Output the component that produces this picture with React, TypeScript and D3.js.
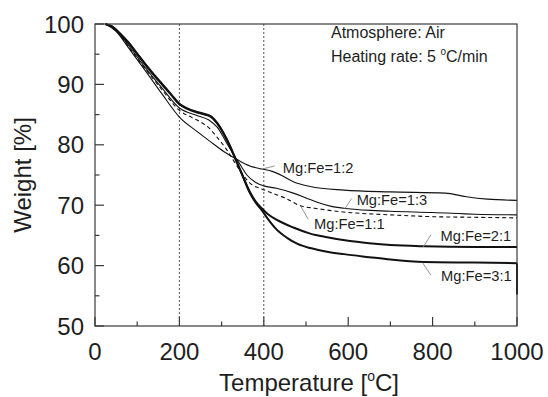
import React from 'react';
import * as d3 from 'd3';

// temperature [°C] and weight [%]
const tMgFe12 = [24, 50, 80, 120, 160, 200, 240, 272, 305, 336, 367, 395, 420, 446, 470, 510, 590, 700, 830, 880, 930, 1000];
const wMgFe12 = [100, 98.8, 96.0, 92.2, 88.3, 84.6, 82.3, 80.6, 78.9, 77.6, 76.5, 76.0, 75.6, 74.8, 73.9, 73.1, 72.5, 72.2, 72.0, 71.4, 71.0, 70.8];

const tMgFe13 = [24, 50, 80, 120, 160, 200, 240, 270, 290, 312, 330, 345, 360, 380, 400, 430, 470, 500, 530, 560, 600, 700, 800, 900, 1000];
const wMgFe13 = [100, 99.0, 96.4, 92.7, 89.3, 86.1, 84.9, 84.1, 82.9, 80.3, 78.2, 76.6, 75.0, 73.8, 73.2, 72.8, 72.0, 71.2, 70.4, 69.8, 69.4, 69.0, 68.8, 68.5, 68.4];

const tMgFe11 = [24, 50, 80, 120, 160, 200, 230, 250, 270, 290, 310, 330, 350, 370, 395, 420, 450, 487, 520, 560, 600, 700, 800, 900, 1000];
const wMgFe11 = [100, 98.9, 96.2, 92.5, 89.0, 85.7, 84.5, 83.8, 82.8, 81.2, 79.4, 77.2, 75.1, 73.5, 72.7, 72.0, 71.2, 69.9, 69.5, 69.1, 68.8, 68.4, 68.1, 68.0, 67.9];

const tMgFe21 = [24, 40, 60, 80, 100, 120, 140, 160, 180, 200, 220, 240, 260, 275, 290, 305, 320, 335, 350, 365, 380, 395, 410, 430, 470, 510, 550, 600, 650, 700, 780, 900, 1000];
const wMgFe21 = [100, 99.6, 98.3, 96.8, 95.0, 93.2, 91.5, 89.9, 88.3, 86.7, 85.9, 85.4, 85.0, 84.6, 83.5, 81.8, 79.7, 77.3, 74.9, 72.5, 70.7, 69.5, 68.5, 67.6, 66.3, 65.3, 64.7, 64.1, 63.7, 63.4, 63.2, 63.1, 63.1];

const tMgFe31 = [24, 40, 60, 80, 100, 120, 140, 160, 180, 200, 220, 240, 260, 275, 290, 305, 320, 335, 350, 365, 380, 395, 410, 430, 455, 480, 510, 550, 590, 650, 700, 780, 900, 1000];
const wMgFe31 = [100, 99.6, 98.4, 96.9, 95.1, 93.3, 91.6, 90.0, 88.4, 86.8, 86.0, 85.5, 85.1, 84.7, 83.6, 81.9, 79.8, 77.3, 74.8, 72.3, 70.5, 69.2, 67.7, 66.0, 64.6, 63.6, 62.9, 62.3, 61.9, 61.4, 61.0, 60.6, 60.5, 60.4];
// the 3:1 trace drops at the end of the run
const tEndDrop = [1000, 1000];
const wEndDrop = [60.4, 55.2];

const seriesNames = ['Mg:Fe=1:2', 'Mg:Fe=1:3', 'Mg:Fe=1:1', 'Mg:Fe=2:1', 'Mg:Fe=3:1'];
// leader start (on curve), leader end, text start — all in [°C, %]
const leaderFrom = [[391, 75.9], [592, 69.4], [487, 69.9], [778, 63.1], [776, 60.5]];
const leaderTo = [[426, 76.5], [608, 71.1], [505, 67.7], [796, 65.1], [796, 58.4]];
const labelAt = [[445, 75.4], [620, 70.0], [519, 66.1], [819, 64.1], [820, 57.5]];

const xTicks = [0, 200, 400, 600, 800, 1000];
const yTicks = [50, 60, 70, 80, 90, 100];
const markers = [200, 400];

const width = 548, height = 397;
const margin = { top: 24, right: 31, bottom: 71, left: 95 };
const font = 'Liberation Sans, Arial, Helvetica, sans-serif';

export default function App() {
  const x = d3.scaleLinear().domain([0, 1000]).range([margin.left, width - margin.right]);
  const y = d3.scaleLinear().domain([50, 100]).range([height - margin.bottom, margin.top]);

  const mk = (ts: number[], ws: number[]) =>
    d3.line<number>()
      .x((_, i) => x(ts[i]))
      .y((w) => y(w))
      .curve(d3.curveMonotoneX)(ws) || '';

  const curves = [
    { d: mk(tMgFe12, wMgFe12), w: 1.1, dash: undefined },
    { d: mk(tMgFe13, wMgFe13), w: 1.1, dash: undefined },
    { d: mk(tMgFe11, wMgFe11), w: 1.1, dash: '4,3' },
    { d: mk(tMgFe21, wMgFe21), w: 2.0, dash: undefined },
    { d: mk(tMgFe31, wMgFe31), w: 2.0, dash: undefined },
  ];
  const drop = d3.line<number>().x((_, i) => x(tEndDrop[i])).y((w) => y(w))(wEndDrop) || '';

  const minorX = d3.range(100, 1000, 200);
  const minorY = d3.range(55, 100, 10);
  const x0 = x(0), y0 = y(50);
  const axisColor = '#3a3a3a';
  const textColor = '#1e1e1e';

  return (
    <svg width={width} height={height} style={{ position: 'absolute', left: 0, top: 0, background: '#fff' }} fontFamily={font}>
      {/* marker lines */}
      {markers.map((m) => (
        <line key={m} x1={x(m)} x2={x(m)} y1={y(100)} y2={y(50)} stroke="#555" strokeWidth={1} strokeDasharray="2,2" />
      ))}

      {/* curves */}
      {curves.map((c, i) => (
        <path key={i} d={c.d} fill="none" stroke="#111" strokeWidth={c.w} strokeDasharray={c.dash} />
      ))}
      <path d={drop} fill="none" stroke="#111" strokeWidth={2.0} />

      {/* leaders + labels */}
      {seriesNames.map((n, i) => (
        <g key={n}>
          <line x1={x(leaderFrom[i][0])} y1={y(leaderFrom[i][1])} x2={x(leaderTo[i][0])} y2={y(leaderTo[i][1])} stroke="#888" strokeWidth={0.9} />
          <text x={x(labelAt[i][0])} y={y(labelAt[i][1])} fontSize={14.7} fill={textColor}>{n}</text>
        </g>
      ))}

      {/* frame */}
      <rect x={x0} y={y(100)} width={x(1000) - x0} height={y0 - y(100)} fill="none" stroke={axisColor} strokeWidth={1.2} />

      {/* ticks */}
      {xTicks.map((t) => (
        <g key={'x' + t}>
          <line x1={x(t)} x2={x(t)} y1={y0} y2={y0 - 9} stroke={axisColor} strokeWidth={1.2} />
          <text x={x(t)} y={y0 + 34} fontSize={24} textAnchor="middle" fill={textColor}>{t}</text>
        </g>
      ))}
      {minorX.map((t) => (
        <line key={'mx' + t} x1={x(t)} x2={x(t)} y1={y0} y2={y0 - 4.5} stroke={axisColor} strokeWidth={1.2} />
      ))}
      {yTicks.map((t) => (
        <g key={'y' + t}>
          <line x1={x0} x2={x0 + 9} y1={y(t)} y2={y(t)} stroke={axisColor} strokeWidth={1.2} />
          <text x={x0 - 11} y={y(t) + 8.6} fontSize={24} textAnchor="end" fill={textColor}>{t}</text>
        </g>
      ))}
      {minorY.map((t) => (
        <line key={'my' + t} x1={x0} x2={x0 + 4.5} y1={y(t)} y2={y(t)} stroke={axisColor} strokeWidth={1.2} />
      ))}

      {/* axis titles */}
      <text x={(x0 + x(1000)) / 2 + 3} y={391} fontSize={24} textAnchor="middle" fill={textColor}>
        Temperature [<tspan fontSize={14} dy={-10}>o</tspan><tspan dy={10}>C]</tspan>
      </text>
      <text transform={`translate(31,${(y(100) + y0) / 2}) rotate(-90)`} fontSize={24} textAnchor="middle" fill={textColor}>
        Weight [%]
      </text>

      {/* conditions */}
      <text x={331} y={37.5} fontSize={16} fill={textColor}>Atmosphere: Air</text>
      <text x={331} y={61.5} fontSize={16} fill={textColor}>
        Heating rate: 5 <tspan fontSize={10} dy={-7}>o</tspan><tspan dy={7}>C/min</tspan>
      </text>
    </svg>
  );
}
